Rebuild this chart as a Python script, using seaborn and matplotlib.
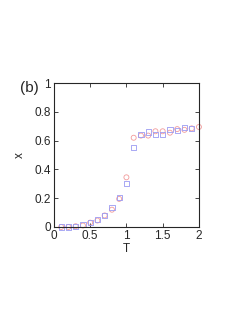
import numpy as np
import pandas as pd
import seaborn as sns
import matplotlib.pyplot as plt

# values
T_red = [0.1, 0.2, 0.3, 0.4, 0.5, 0.6, 0.7, 0.8, 0.9, 1.0,
         1.1, 1.2, 1.3, 1.4, 1.5, 1.6, 1.7, 1.8, 1.9, 2.0]
x_red = [0.0, 0.0, 0.005, 0.01, 0.03, 0.045, 0.08, 0.12, 0.195, 0.345,
         0.62, 0.635, 0.635, 0.665, 0.665, 0.655, 0.68, 0.675, 0.685, 0.695]
T_blue = [0.1, 0.2, 0.3, 0.4, 0.5, 0.6, 0.7, 0.8, 0.9, 1.0,
          1.1, 1.2, 1.3, 1.4, 1.5, 1.6, 1.7, 1.8, 1.9]
x_blue = [0.0, 0.0, 0.005, 0.015, 0.03, 0.05, 0.08, 0.135, 0.205, 0.30,
          0.55, 0.645, 0.66, 0.645, 0.645, 0.68, 0.67, 0.69, 0.685]

xticks = [0, 0.5, 1, 1.5, 2]
xticklabels = ['0', '0.5', '1', '1.5', '2']
yticks = [0, 0.2, 0.4, 0.6, 0.8, 1]
yticklabels = ['0', '0.2', '0.4', '0.6', '0.8', '1']

sns.set_style('ticks')
plt.rcParams['font.family'] = ['Liberation Sans', 'DejaVu Sans']

fig = plt.figure(figsize=(2.45, 3.17), dpi=100)
ax = fig.add_axes([0.220, 0.284, 0.592, 0.454])

red = pd.DataFrame({'T': T_red, 'x': x_red})
blue = pd.DataFrame({'T': T_blue, 'x': x_blue})

sns.scatterplot(x='T', y='x', data=red, ax=ax, marker='o', s=13,
                facecolor='none', edgecolor='#f29a9a', linewidth=0.6, clip_on=False)
sns.scatterplot(x='T', y='x', data=blue, ax=ax, marker='s', s=14,
                facecolor='none', edgecolor='#9a9af2', linewidth=0.6, clip_on=False)

ax.set_xlim(0, 2)
ax.set_ylim(0, 1)
ax.set_xticks(xticks)
ax.set_xticklabels(xticklabels)
ax.set_yticks(yticks)
ax.set_yticklabels(yticklabels)
ax.tick_params(direction='in', length=3, width=0.6, top=True, right=True,
               labelsize=8.5, pad=2)
for sp in ax.spines.values():
    sp.set_linewidth(0.8)
ax.set_xlabel('T', fontsize=8.5, labelpad=1)
ax.set_ylabel('x', fontsize=8.5, labelpad=6)

fig.text(0.08, 0.71, '(b)', fontsize=11)

fig.savefig('out.png', dpi=100)
